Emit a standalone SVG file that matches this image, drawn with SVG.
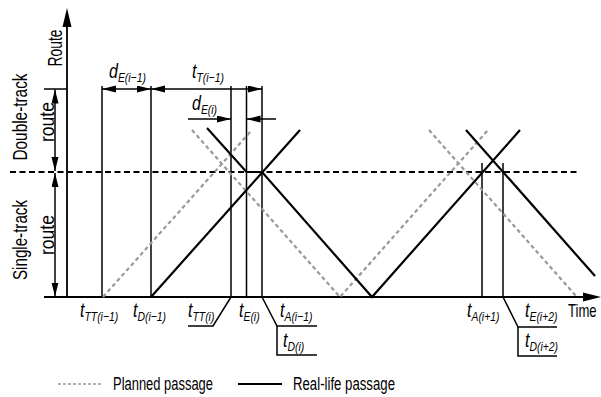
<svg xmlns="http://www.w3.org/2000/svg" width="601" height="397" viewBox="0 0 601 397">
<style>
text{font-family:"Liberation Sans",Arial,sans-serif;fill:#000}
.ax{font-size:19.5px}
.lg{font-size:17.5px}
.m{font-size:20px;font-style:italic}
.s{font-size:13px;font-style:italic}
.thin{stroke:#000;stroke-width:1.5;fill:none}
.axis{stroke:#000;stroke-width:1.8;fill:none}
.real{stroke:#000;stroke-width:2.2;fill:none;stroke-linejoin:miter}
.plan{stroke:#999;stroke-width:2.2;fill:none;stroke-dasharray:4 3}
.dim{stroke:#000;stroke-width:1.5;fill:none;marker-start:url(#ah);marker-end:url(#ah)}
.dimE{stroke:#000;stroke-width:1.5;fill:none;marker-end:url(#ah)}
</style>
<defs>
<marker id="ah" markerUnits="userSpaceOnUse" markerWidth="15" markerHeight="8" refX="14" refY="3.5" orient="auto-start-reverse">
<path d="M0,0 L14,3.5 L0,7 z" fill="#000"/>
</marker>
</defs>

<g id="axes">
<line class="axis" x1="67" y1="297" x2="67" y2="24"/>
<path d="M67,8 L71.5,27 L62.5,27 z" fill="#000"/>
<line class="axis" x1="44" y1="297" x2="586" y2="297"/>
<path d="M601,297 L583,292.5 L583,301.5 z" fill="#000"/>
<line class="thin" x1="44" y1="89" x2="67" y2="89"/>
<line x1="10" y1="172" x2="578" y2="172" stroke="#000" stroke-width="1.8" stroke-dasharray="6 3.5"/>
<line class="dim" x1="55" y1="89.5" x2="55" y2="171"/>
<line class="dim" x1="55" y1="173" x2="55" y2="296.5"/>
<text class="ax" transform="translate(61.5,48) rotate(-90)" text-anchor="middle" textLength="37" lengthAdjust="spacingAndGlyphs">Route</text>
<text class="ax" transform="translate(26.5,117) rotate(-90)" text-anchor="middle" textLength="87" lengthAdjust="spacingAndGlyphs">Double-track</text>
<text class="ax" transform="translate(53.5,122) rotate(-90)" text-anchor="middle" textLength="40" lengthAdjust="spacingAndGlyphs">route</text>
<text class="ax" transform="translate(26.5,240) rotate(-90)" text-anchor="middle" textLength="80" lengthAdjust="spacingAndGlyphs">Single-track</text>
<text class="ax" transform="translate(53.5,235) rotate(-90)" text-anchor="middle" textLength="40" lengthAdjust="spacingAndGlyphs">route</text>
<text class="lg" transform="translate(568,317) scale(0.75,1)">Time</text>
</g>

<g id="connectors">
<g id="guides">
<line class="thin" x1="102" y1="86" x2="102" y2="297"/>
<line class="thin" x1="151" y1="86" x2="151" y2="297"/>
<line class="thin" x1="231" y1="86" x2="231" y2="297"/>
<line class="thin" x1="246.5" y1="86" x2="246.5" y2="297"/>
<line class="thin" x1="262" y1="86" x2="262" y2="297"/>
<line class="thin" x1="482" y1="163" x2="482" y2="297"/>
<line class="thin" x1="503" y1="163" x2="503" y2="297"/>
<polyline class="thin" points="231,297 213,326 188,326"/>
<polyline class="thin" points="262,297 277,326 317,326"/>
<polyline class="thin" points="277,326 277,355 317,355"/>
<polyline class="thin" points="503,297 518,327 557,327"/>
<polyline class="thin" points="518,327 518,356 557,356"/>
</g>
<g id="dimensions">
<line class="dim" x1="102" y1="89" x2="151" y2="89"/>
<line class="dim" x1="151" y1="89" x2="262" y2="89"/>
<line class="dimE" x1="188" y1="119" x2="231" y2="119"/>
<line class="dimE" x1="276" y1="119" x2="246.5" y2="119"/>
</g>
<g id="planned">
<line class="plan" x1="103" y1="297" x2="252" y2="130"/>
<polyline class="plan" points="192,130 340,297 488,130"/>
<line class="plan" x1="429" y1="130" x2="577" y2="297"/>
</g>
<g id="real">
<line class="real" x1="151" y1="297" x2="300" y2="130"/>
<polyline class="real" points="207,128 246.5,172 262,172 372,297 520,130"/>
<line class="real" x1="466" y1="130" x2="595" y2="276"/>
</g>
</g>

<g id="labels">
<text transform="translate(109,78) scale(0.8,1)"><tspan class="m">d</tspan><tspan class="s" dy="4">E(i−1)</tspan></text>
<text transform="translate(192,78) scale(0.8,1)"><tspan class="m">t</tspan><tspan class="s" dy="4">T(i−1)</tspan></text>
<text transform="translate(192,110) scale(0.8,1)"><tspan class="m">d</tspan><tspan class="s" dy="4">E(i)</tspan></text>
<text transform="translate(80,317) scale(0.8,1)"><tspan class="m">t</tspan><tspan class="s" dy="4">TT(i−1)</tspan></text>
<text transform="translate(133,317) scale(0.8,1)"><tspan class="m">t</tspan><tspan class="s" dy="4">D(i−1)</tspan></text>
<text transform="translate(188,317) scale(0.8,1)"><tspan class="m">t</tspan><tspan class="s" dy="4">TT(i)</tspan></text>
<text transform="translate(239,317) scale(0.8,1)"><tspan class="m">t</tspan><tspan class="s" dy="4">E(i)</tspan></text>
<text transform="translate(280,317) scale(0.8,1)"><tspan class="m">t</tspan><tspan class="s" dy="4">A(i−1)</tspan></text>
<text transform="translate(283,347) scale(0.8,1)"><tspan class="m">t</tspan><tspan class="s" dy="4">D(i)</tspan></text>
<text transform="translate(467,317) scale(0.8,1)"><tspan class="m">t</tspan><tspan class="s" dy="4">A(i+1)</tspan></text>
<text transform="translate(525,317) scale(0.8,1)"><tspan class="m">t</tspan><tspan class="s" dy="4">E(i+2)</tspan></text>
<text transform="translate(525,347) scale(0.8,1)"><tspan class="m">t</tspan><tspan class="s" dy="4">D(i+2)</tspan></text>
</g>

<g id="legend">
<line x1="58" y1="384" x2="102" y2="384" stroke="#999" stroke-width="1.5" stroke-dasharray="3 2"/>
<text class="lg" x="113" y="390" textLength="100" lengthAdjust="spacingAndGlyphs">Planned passage</text>
<line x1="238" y1="384" x2="282" y2="384" stroke="#000" stroke-width="2"/>
<text class="lg" x="293" y="390" textLength="102" lengthAdjust="spacingAndGlyphs">Real-life passage</text>
</g>
</svg>
